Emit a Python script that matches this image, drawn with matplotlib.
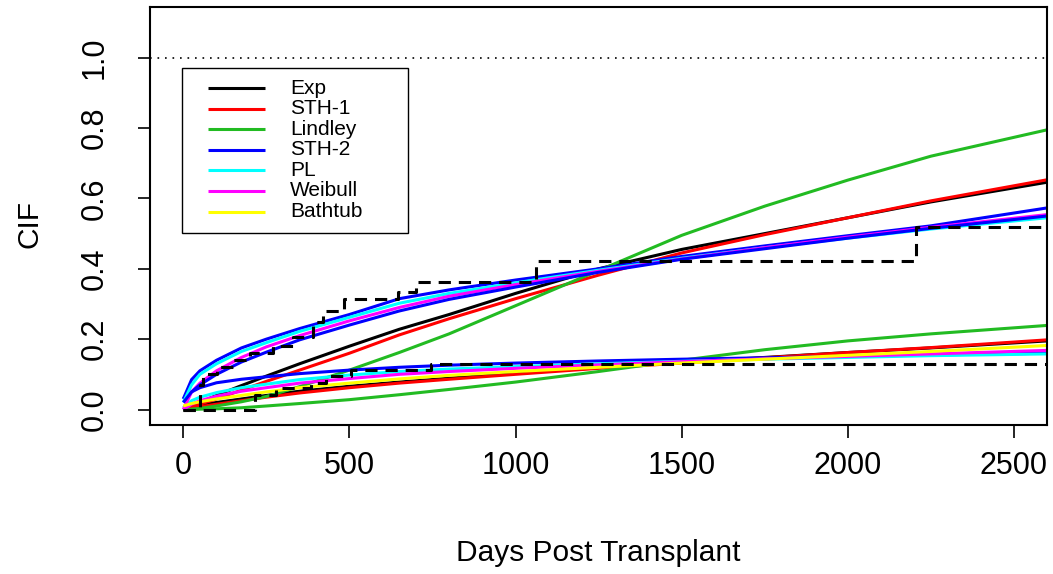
import matplotlib
matplotlib.use("Agg")
import matplotlib.pyplot as plt
from matplotlib.patches import Rectangle

plt.rcParams['font.family'] = ['Liberation Sans', 'DejaVu Sans']

# days at which the fitted CIF curves were read
days = [0, 25, 50, 100, 175, 250, 350, 500, 650, 800, 1000, 1250, 1500, 1750, 2000, 2250, 2600]

# event 1 (upper group)
exp_1 = [0, 0.01, 0.02, 0.04, 0.068, 0.095, 0.13, 0.18, 0.228, 0.27, 0.33, 0.4, 0.455, 0.5, 0.545, 0.59, 0.646]
sth1_1 = [0, 0.007, 0.015, 0.03, 0.055, 0.08, 0.112, 0.16, 0.212, 0.258, 0.315, 0.382, 0.445, 0.497, 0.545, 0.593, 0.653]
lind_1 = [0, 0.001, 0.003, 0.01, 0.022, 0.037, 0.065, 0.112, 0.162, 0.215, 0.295, 0.395, 0.495, 0.578, 0.652, 0.72, 0.795]
sth2_1 = [0.03, 0.085, 0.11, 0.14, 0.175, 0.2, 0.23, 0.27, 0.315, 0.34, 0.368, 0.4, 0.435, 0.465, 0.494, 0.522, 0.573]
pl_1 = [0.02, 0.07, 0.1, 0.13, 0.165, 0.19, 0.222, 0.262, 0.302, 0.33, 0.36, 0.396, 0.43, 0.46, 0.487, 0.513, 0.545]
weib_1 = [0, 0.05, 0.075, 0.11, 0.148, 0.178, 0.21, 0.252, 0.29, 0.322, 0.355, 0.393, 0.428, 0.46, 0.49, 0.518, 0.554]
bath_1 = [0.02, 0.05, 0.07, 0.1, 0.135, 0.163, 0.198, 0.24, 0.28, 0.313, 0.348, 0.39, 0.427, 0.457, 0.487, 0.515, 0.55]

# event 2 (lower group)
exp_2 = [0, 0.006, 0.012, 0.02, 0.03, 0.04, 0.052, 0.066, 0.078, 0.089, 0.103, 0.119, 0.134, 0.148, 0.162, 0.175, 0.195]
sth1_2 = [0, 0.004, 0.008, 0.015, 0.025, 0.035, 0.047, 0.062, 0.075, 0.086, 0.1, 0.117, 0.132, 0.147, 0.162, 0.176, 0.198]
lind_2 = [0, 0, 0.001, 0.002, 0.005, 0.01, 0.017, 0.028, 0.042, 0.057, 0.078, 0.108, 0.14, 0.17, 0.195, 0.215, 0.239]
sth2_2 = [0.03, 0.05, 0.062, 0.076, 0.086, 0.093, 0.102, 0.112, 0.12, 0.126, 0.132, 0.138, 0.143, 0.147, 0.151, 0.155, 0.16]
pl_2 = [0.005, 0.025, 0.035, 0.048, 0.062, 0.072, 0.085, 0.098, 0.108, 0.115, 0.122, 0.13, 0.137, 0.143, 0.148, 0.153, 0.158]
weib_2 = [0, 0.015, 0.025, 0.038, 0.052, 0.062, 0.075, 0.088, 0.1, 0.108, 0.117, 0.127, 0.136, 0.144, 0.151, 0.158, 0.168]
bath_2 = [0.01, 0.017, 0.022, 0.03, 0.04, 0.05, 0.062, 0.075, 0.087, 0.097, 0.108, 0.12, 0.132, 0.143, 0.154, 0.165, 0.182]

# nonparametric step CIFs (value holds from t[i] to t[i+1])
np1_t = [0, 50, 60, 100, 150, 200, 270, 330, 390, 420, 484, 645, 700, 1061, 2205, 2600]
np1_v = [0, 0.07, 0.10, 0.12, 0.14, 0.16, 0.18, 0.205, 0.248, 0.281, 0.313, 0.333, 0.362, 0.423, 0.52, 0.52]
np2_t = [0, 215, 280, 385, 430, 505, 745, 2600]
np2_v = [0, 0.04, 0.06, 0.075, 0.094, 0.113, 0.13, 0.13]

labels = ["Exp", "STH-1", "Lindley", "STH-2", "PL", "Weibull", "Bathtub"]
colors = ["black", "red", "#22bb22", "blue", "cyan", "magenta", "yellow"]

fig = plt.figure(figsize=(10.53, 5.74), dpi=100)
ax = fig.add_axes([0.1425, 0.2596, 0.852, 0.7282])

ev1 = [exp_1, sth1_1, lind_1, sth2_1, pl_1, weib_1, bath_1]
ev2 = [exp_2, sth1_2, lind_2, sth2_2, pl_2, weib_2, bath_2]
col1 = colors[:6] + ["blue"]
for i in range(7):
    ax.plot(days, ev1[i], color=col1[i], lw=2.2, solid_capstyle='butt')
    ax.plot(days, ev2[i], color=colors[i], lw=2.2, solid_capstyle='butt')

ax.step(np1_t, np1_v, where='post', color='black', lw=2.2, dashes=(4, 2.6))
ax.step(np2_t, np2_v, where='post', color='black', lw=2.2, dashes=(4, 2.6))
ax.axhline(1.0, color='black', lw=1.2, dashes=(1, 3.5))

ax.set_xlim(-100, 2600)
ax.set_ylim(-0.044, 1.144)
ax.set_xticks([0, 500, 1000, 1500, 2000, 2500])
ax.set_yticks([0, 0.2, 0.4, 0.6, 0.8, 1.0])
ax.set_yticklabels(["0.0", "0.2", "0.4", "0.6", "0.8", "1.0"], rotation=90, va='center')
ax.tick_params(labelsize=22, length=9, width=1.2)
ax.tick_params(axis='x', pad=10)
ax.tick_params(axis='y', pad=20)
for s in ax.spines.values():
    s.set_linewidth(1.5)

ax.set_xlabel("Days Post Transplant", fontsize=21.5, va='center')
ax.xaxis.set_label_coords(0.5, -0.306)
ax.set_ylabel("CIF", fontsize=21.5, va='center')
ax.yaxis.set_label_coords(-0.134, 0.48)

# legend box, drawn in axes fractions
def fx(px):
    return (px - 150) / 897

def fy(py):
    return (425 - py) / 418

ax.add_patch(Rectangle((fx(182), fy(233)), fx(408) - fx(182), fy(68) - fy(233),
                       transform=ax.transAxes, facecolor='white', edgecolor='black',
                       lw=1.0, zorder=5))
for i, lab in enumerate(labels):
    yy = fy(88 + i * 20.6)
    ax.plot([fx(208), fx(265)], [yy, yy], color=colors[i], lw=2.2,
            transform=ax.transAxes, zorder=6, solid_capstyle='butt')
    ax.text(fx(290), yy, lab, fontsize=15, va='center', ha='left',
            transform=ax.transAxes, zorder=6)

fig.savefig("out.png", dpi=100)
